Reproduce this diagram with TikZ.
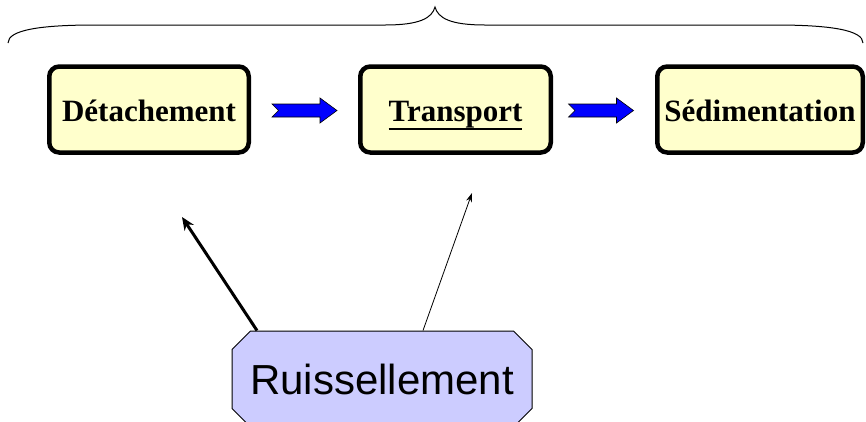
\documentclass[tikz,border=0pt]{standalone}
\usepackage{fontspec}
\setmainfont{Liberation Serif}
\newfontfamily\labelsans{Liberation Sans}
\usetikzlibrary{shapes.misc,arrows.meta,calc}

\definecolor{boxfill}{HTML}{FFFFCC}
\definecolor{runfill}{HTML}{CCCCFF}
\definecolor{flowblue}{HTML}{0000FF}

% heavier underline for the highlighted stage
\newcommand\heavyunderline[1]{\setbox0\hbox{#1}\rlap{\rule[-8pt]{\wd0}{2pt}}\box0}

\tikzset{
  stagebox/.style={draw=black, line width=4.5pt, fill=boxfill, rounded corners=10pt,
    minimum height=86pt, inner sep=0pt, text height=24pt, text depth=0pt,
    font=\fontsize{31}{36}\selectfont\bfseries},
  runbox/.style={draw=black, line width=1pt, fill=runfill, chamfered rectangle,
    chamfered rectangle xsep=25pt, minimum width=300pt, minimum height=96pt,
    inner sep=0pt, font=\labelsans\fontsize{42}{48}\selectfont},
  bracepath/.style={draw=black, line width=1pt},
  strongflow/.style={draw=black, line width=3pt, -{Stealth[length=13pt,width=11pt]}},
  weakflow/.style={draw=black, line width=0.8pt, -{Stealth[length=9pt,width=6pt]}},
  flowarrow/.pic={
    \filldraw[fill=flowblue, draw=black, line width=0.6pt]
      (-32.5,-6.5) -- (15.5,-6.5) -- (15.5,-12.5) -- (32.5,0) -- (15.5,12.5)
      -- (15.5,6.5) -- (-32.5,6.5) -- (-26,0) -- cycle;
  }
}

\begin{document}
\begin{tikzpicture}[x=1pt, y=-1pt]
  \useasboundingbox (0,0) rectangle (866,421);

  % overarching brace
  \draw[bracepath] (8,43) .. controls (8,30) and (40,25) .. (95,25)
    -- (385,25) .. controls (420,25) and (432,18) .. (435,7)
    .. controls (438,18) and (450,25) .. (485,25)
    -- (775,25) .. controls (830,25) and (863,30) .. (863,43);

  % the three stages
  \node[stagebox, minimum width=199.5pt] (det) at (149,109.5) {Détachement};
  \node[stagebox, minimum width=190.5pt] (tra) at (455.5,109.5) {\heavyunderline{Transport}};
  \node[stagebox, minimum width=205.5pt] (sed) at (760,109.5) {Sédimentation};

  % blue process arrows between the stages
  \pic at ($(det.east)!0.5!(tra.west)+(0,1)$) {flowarrow};
  \pic at ($(tra.east)!0.5!(sed.west)+(-3,1)$) {flowarrow};

  % runoff driver
  \node[runbox] (run) at (382,379) {Ruissellement};

  \coordinate (detin) at (182,217);
  \coordinate (train) at (472,193);
  \draw[strongflow] ($(run.north)+(-125,0)$) -- (detin);
  \draw[weakflow] ($(run.north)+(41,0)$) -- (train);
\end{tikzpicture}
\end{document}
